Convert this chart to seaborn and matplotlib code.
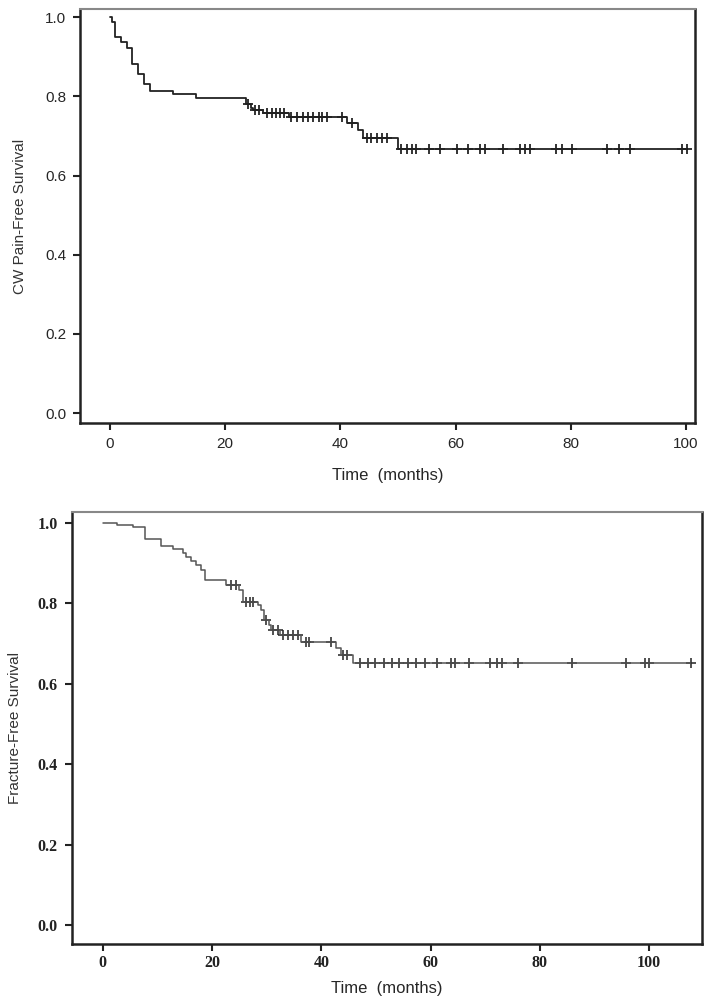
import numpy as np
import pandas as pd
import matplotlib
matplotlib.use("Agg")
import matplotlib.pyplot as plt
import seaborn as sns

# CW pain-free survival: step times and survival after each step
pain_t = [0, 0.3, 0.9, 1.85, 2.9, 3.9, 4.9, 5.95, 6.9, 11, 15, 23.7, 24.4, 24.9, 26.6, 31.0, 41.1, 43.0, 44.0, 50.0, 100.1]
pain_s = [1.0, 0.988, 0.950, 0.938, 0.923, 0.883, 0.858, 0.831, 0.814, 0.806, 0.795, 0.782, 0.772, 0.765, 0.758, 0.747, 0.732, 0.715, 0.694, 0.668, 0.668]

# censored observations (time, survival)
pain_cens_t = [24.0, 25.2, 25.9, 27.2, 28.1, 28.8, 29.5, 30.2,
               31.5, 32.5, 33.5, 34.3, 35.3, 36.2, 36.8, 37.6, 40.2, 42.0,
               44.6, 45.4, 46.3, 47.2, 48.1,
               50.6, 51.6, 52.5, 53.2, 55.3, 57.3, 60.2, 62.2, 64.2, 65.1, 68.3,
               71.2, 72.0, 72.9, 77.5, 78.4, 80.2, 86.2, 88.3, 90.3, 99.3, 100.1]
pain_cens_s = [0.782, 0.765, 0.765, 0.758, 0.758, 0.758, 0.758, 0.758,
               0.747, 0.747, 0.747, 0.747, 0.747, 0.747, 0.747, 0.747, 0.747, 0.732,
               0.694, 0.694, 0.694, 0.694, 0.694,
               0.668, 0.668, 0.668, 0.668, 0.668, 0.668, 0.668, 0.668, 0.668, 0.668, 0.668,
               0.668, 0.668, 0.668, 0.668, 0.668, 0.668, 0.668, 0.668, 0.668, 0.668, 0.668]

# Fracture-free survival
frac_t = [0, 2.6, 5.5, 7.7, 10.7, 12.9, 14.7, 15.3, 16.2, 17.1, 18.0, 18.8, 22.6, 24.9, 25.7,
          28.4, 29.0, 29.6, 30.5, 30.8, 32.4, 36.3, 42.7, 43.6, 45.8, 107.7]
frac_s = [1.0, 0.995, 0.989, 0.959, 0.943, 0.935, 0.926, 0.915, 0.904, 0.894, 0.883, 0.857, 0.846, 0.833, 0.804,
          0.796, 0.784, 0.759, 0.746, 0.734, 0.721, 0.705, 0.688, 0.672, 0.652, 0.652]

frac_cens_t = [23.5, 24.4, 26.3, 26.9, 27.5, 29.8, 31.2, 32.0,
               33.0, 33.9, 34.8, 35.7, 37.2, 37.8, 41.8, 43.9, 44.8,
               47.0, 48.5, 49.9, 51.4, 52.9, 54.3, 55.8, 57.3, 58.9, 61.2, 63.8, 64.4, 67.0,
               70.8, 72.1, 73.1, 76.0, 85.9, 95.8, 99.2, 99.9, 107.7]
frac_cens_s = [0.846, 0.846, 0.804, 0.804, 0.804, 0.759, 0.734, 0.734,
               0.721, 0.721, 0.721, 0.721, 0.705, 0.705, 0.705, 0.672, 0.672,
               0.652, 0.652, 0.652, 0.652, 0.652, 0.652, 0.652, 0.652, 0.652, 0.652, 0.652, 0.652, 0.652,
               0.652, 0.652, 0.652, 0.652, 0.652, 0.652, 0.652, 0.652, 0.652]

y_ticks = [0.0, 0.2, 0.4, 0.6, 0.8, 1.0]
x_ticks = [0, 20, 40, 60, 80, 100]

sns.set_style("white")
plt.rcParams["font.family"] = ["Liberation Sans Narrow", "Liberation Sans", "DejaVu Sans"]
serif = ["Liberation Serif", "DejaVu Serif"]

fig = plt.figure(figsize=(7.08, 10), dpi=100)
ax1 = fig.add_axes([0.113, 0.577, 0.869, 0.414])
ax2 = fig.add_axes([0.101, 0.056, 0.890, 0.432])

pain = pd.DataFrame({"t": pain_t, "s": pain_s})
pain_c = pd.DataFrame({"t": pain_cens_t, "s": pain_cens_s})
frac = pd.DataFrame({"t": frac_t, "s": frac_s})
frac_c = pd.DataFrame({"t": frac_cens_t, "s": frac_cens_s})

# top panel
sns.lineplot(data=pain, x="t", y="s", ax=ax1, drawstyle="steps-post",
             color="#222222", linewidth=1.3, estimator=None, sort=False)
sns.scatterplot(data=pain_c, x="t", y="s", ax=ax1, marker="+", s=45,
                color="#111111", linewidth=1.2)
ax1.set_xlim(-5.2, 101.6)
ax1.set_ylim(-0.025, 1.021)
ax1.set_xticks(x_ticks)
ax1.set_yticks(y_ticks)
ax1.set_xticklabels([str(v) for v in x_ticks], fontsize=11)
ax1.set_yticklabels([f"{v:.1f}" for v in y_ticks], fontsize=11)
ax1.set_xlabel("Time  (months)", fontsize=12, labelpad=12)
ax1.set_ylabel("CW Pain-Free Survival", fontsize=11, labelpad=13,
               family=["Liberation Sans", "DejaVu Sans"], color="#333333")

# bottom panel
sns.lineplot(data=frac, x="t", y="s", ax=ax2, drawstyle="steps-post",
             color="#555555", linewidth=1.1, estimator=None, sort=False)
sns.scatterplot(data=frac_c, x="t", y="s", ax=ax2, marker="+", s=45,
                color="#222222", linewidth=1.1)
ax2.set_xlim(-5.7, 109.6)
ax2.set_ylim(-0.047, 1.027)
ax2.set_xticks(x_ticks)
ax2.set_yticks(y_ticks)
ax2.set_xticklabels([str(v) for v in x_ticks], fontsize=11.5,
                    family=serif, fontweight="bold", color="#222222")
ax2.set_yticklabels([f"{v:.1f}" for v in y_ticks], fontsize=11.5,
                    family=serif, fontweight="bold", color="#222222")
ax2.set_xlabel("Time  (months)", fontsize=12, labelpad=7)
ax2.set_ylabel("Fracture-Free Survival", fontsize=11, labelpad=11,
               family=["Liberation Sans", "DejaVu Sans"], color="#333333")

for ax in (ax1, ax2):
    ax.tick_params(axis="both", direction="out", length=5, width=1.5,
                   color="#222222", bottom=True, left=True, pad=5)
    for side in ("left", "bottom", "right"):
        ax.spines[side].set_color("#222222")
        ax.spines[side].set_linewidth(1.8)
    ax.spines["top"].set_color("#888888")
    ax.spines["top"].set_linewidth(1.5)

ax2.tick_params(axis="x", pad=3)

plt.savefig("out.png", dpi=100)
plt.close()
